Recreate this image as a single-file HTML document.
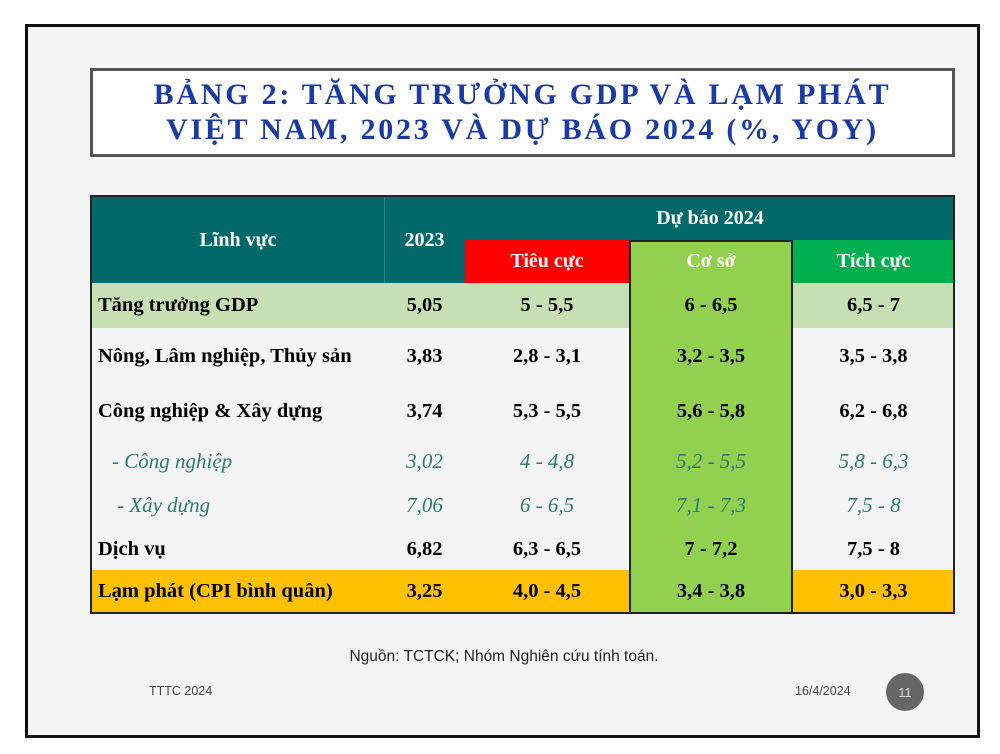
<!DOCTYPE html>
<html><head><meta charset="utf-8"><style>
*{margin:0;padding:0;box-sizing:border-box}
body{width:1000px;height:754px;background:#fff;position:relative;overflow:hidden;font-family:"Liberation Serif",serif}
.a{position:absolute}
.c{position:absolute;display:flex;align-items:center;justify-content:center;font-weight:bold;font-size:20.5px;color:#000}
.l{justify-content:flex-start;padding-left:6px}
.h{color:#fff;font-size:20px}
.i{font-weight:normal;font-style:italic;color:#2b7a74;font-size:21px}
</style></head><body>
<div class="a" style="left:25px;top:24px;width:955px;height:714px;border:3px solid #111;background:#f4f4f4"></div>
<div class="a" style="left:90px;top:68px;width:865px;height:89px;border:3px solid #555;background:#fff"></div>
<div class="a" style="left:90px;top:77px;width:865px;text-align:center;color:#1a3aa6;font-weight:bold;font-size:30px;letter-spacing:2.75px;line-height:35px">BẢNG 2: TĂNG TRƯỞNG GDP VÀ LẠM PHÁT<br>VIỆT NAM, 2023 VÀ DỰ BÁO 2024 (%, YOY)</div>

<div class="a" style="left:90px;top:195px;width:865px;height:419px;border:2px solid #222;background:#f4f4f4"></div>
<div class="a" style="left:92px;top:197px;width:861px;height:86px;background:#02696a"></div>
<div class="a" style="left:384px;top:197px;width:1px;height:86px;background:#2a8080"></div>
<div class="a" style="left:465px;top:240px;width:164px;height:43px;background:#fe0000"></div>
<div class="a" style="left:792px;top:240px;width:161px;height:43px;background:#00b050"></div>
<div class="a" style="left:92px;top:283px;width:861px;height:45px;background:#c6e0b4"></div>
<div class="a" style="left:92px;top:570px;width:861px;height:42px;background:#ffc000"></div>
<div class="a" style="left:629px;top:240px;width:164px;height:374px;background:#92d050;border:2px solid #222"></div>
<div class="a" style="left:92px;top:612px;width:861px;height:2px;background:#222"></div>

<div class="c h" style="left:92px;top:197px;width:292px;height:86px">Lĩnh vực</div>
<div class="c h" style="left:384px;top:197px;width:81px;height:86px">2023</div>
<div class="c h" style="left:465px;top:197px;width:490px;height:43px">Dự báo 2024</div>
<div class="c h" style="left:465px;top:240px;width:164px;height:43px">Tiêu cực</div>
<div class="c h" style="left:629px;top:240px;width:164px;height:43px">Cơ sở</div>
<div class="c h" style="left:792px;top:240px;width:163px;height:43px">Tích cực</div>

<div class="c l" style="left:92px;top:283px;width:292px;height:45px">Tăng trưởng GDP</div>
<div class="c" style="left:384px;top:283px;width:81px;height:45px">5,05</div>
<div class="c" style="left:465px;top:283px;width:164px;height:45px">5 - 5,5</div>
<div class="c" style="left:629px;top:283px;width:164px;height:45px">6 - 6,5</div>
<div class="c" style="left:792px;top:283px;width:163px;height:45px">6,5 - 7</div>

<div class="c l" style="left:92px;top:330px;width:292px;height:52px">Nông, Lâm nghiệp, Thủy sản</div>
<div class="c" style="left:384px;top:330px;width:81px;height:52px">3,83</div>
<div class="c" style="left:465px;top:330px;width:164px;height:52px">2,8 - 3,1</div>
<div class="c" style="left:629px;top:330px;width:164px;height:52px">3,2 - 3,5</div>
<div class="c" style="left:792px;top:330px;width:163px;height:52px">3,5 - 3,8</div>

<div class="c l" style="left:92px;top:385px;width:292px;height:52px">Công nghiệp &amp; Xây dựng</div>
<div class="c" style="left:384px;top:385px;width:81px;height:52px">3,74</div>
<div class="c" style="left:465px;top:385px;width:164px;height:52px">5,3 - 5,5</div>
<div class="c" style="left:629px;top:385px;width:164px;height:52px">5,6 - 5,8</div>
<div class="c" style="left:792px;top:385px;width:163px;height:52px">6,2 - 6,8</div>

<div class="c l i" style="left:106px;top:440px;width:278px;height:43px">- Công nghiệp</div>
<div class="c i" style="left:384px;top:440px;width:81px;height:43px">3,02</div>
<div class="c i" style="left:465px;top:440px;width:164px;height:43px">4 - 4,8</div>
<div class="c i" style="left:629px;top:440px;width:164px;height:43px">5,2 - 5,5</div>
<div class="c i" style="left:792px;top:440px;width:163px;height:43px">5,8 - 6,3</div>

<div class="c l i" style="left:111px;top:484px;width:273px;height:43px">- Xây dựng</div>
<div class="c i" style="left:384px;top:484px;width:81px;height:43px">7,06</div>
<div class="c i" style="left:465px;top:484px;width:164px;height:43px">6 - 6,5</div>
<div class="c i" style="left:629px;top:484px;width:164px;height:43px">7,1 - 7,3</div>
<div class="c i" style="left:792px;top:484px;width:163px;height:43px">7,5 - 8</div>

<div class="c l" style="left:92px;top:528px;width:292px;height:42px">Dịch vụ</div>
<div class="c" style="left:384px;top:528px;width:81px;height:42px">6,82</div>
<div class="c" style="left:465px;top:528px;width:164px;height:42px">6,3 - 6,5</div>
<div class="c" style="left:629px;top:528px;width:164px;height:42px">7 - 7,2</div>
<div class="c" style="left:792px;top:528px;width:163px;height:42px">7,5 - 8</div>

<div class="c l" style="left:92px;top:570px;width:292px;height:42px">Lạm phát (CPI bình quân)</div>
<div class="c" style="left:384px;top:570px;width:81px;height:42px">3,25</div>
<div class="c" style="left:465px;top:570px;width:164px;height:42px">4,0 - 4,5</div>
<div class="c" style="left:629px;top:570px;width:164px;height:42px">3,4 - 3,8</div>
<div class="c" style="left:792px;top:570px;width:163px;height:42px">3,0 - 3,3</div>

<div class="a" style="left:0;top:648px;width:1008px;text-align:center;font-family:'Liberation Sans',sans-serif;font-size:15.5px;color:#222">Nguồn: TCTCK; Nhóm Nghiên cứu tính toán.</div>
<div class="a" style="left:149px;top:684px;font-family:'Liberation Sans',sans-serif;font-size:12.5px;color:#444">TTTC 2024</div>
<div class="a" style="left:795px;top:684px;font-family:'Liberation Sans',sans-serif;font-size:12.5px;color:#444">16/4/2024</div>
<div class="a" style="left:886px;top:673px;width:38px;height:38px;border-radius:50%;background:#666;color:#ddd;font-family:'Liberation Sans',sans-serif;font-size:13px;display:flex;align-items:center;justify-content:center">11</div>
</body></html>
